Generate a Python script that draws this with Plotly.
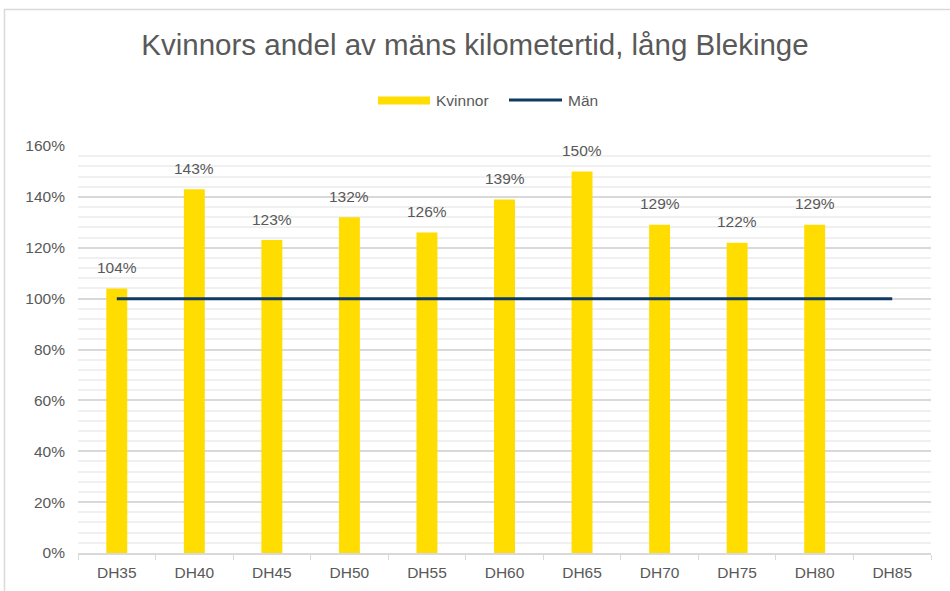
import plotly.graph_objects as go

categories = ["DH35", "DH40", "DH45", "DH50", "DH55", "DH60", "DH65", "DH70", "DH75", "DH80", "DH85"]
kvinnor = [1.04, 1.43, 1.23, 1.32, 1.26, 1.39, 1.50, 1.29, 1.22, 1.29, None]
man = [1.00] * 11
labels = ["104%", "143%", "123%", "132%", "126%", "139%", "150%", "129%", "122%", "129%", ""]

W, H = 950, 591
L, R, T, B = 78, 19, 146, 38
PW, PH = W - L - R, H - T - B

def px(x):
    return (x - L) / PW

def py(y):
    return (H - B - y) / PH

TXT = "#595959"
FONT = "Liberation Sans, Arial, sans-serif"
YEL = "#FFDD00"
NAVY = "#0F3A63"

fig = go.Figure()
fig.add_trace(go.Bar(x=categories, y=kvinnor, name="Kvinnor",
                     marker=dict(color=YEL, line=dict(width=0)), width=0.27,
                     showlegend=False, hoverinfo="x+y"))
fig.add_trace(go.Scatter(x=categories, y=man, name="Män", mode="lines",
                         line=dict(color=NAVY, width=3), showlegend=False))

annotations = []
for c, v, t in zip(categories, kvinnor, labels):
    if v is None:
        continue
    annotations.append(dict(x=c, y=v, text=t, showarrow=False, yshift=21,
                            yanchor="middle", font=dict(size=15.5, color=TXT, family=FONT)))

# manual legend
annotations.append(dict(xref="paper", yref="paper", x=px(434), y=py(100), text="Kvinnor",
                        showarrow=False, xanchor="left", yanchor="middle",
                        font=dict(size=15.5, color=TXT, family=FONT)))
annotations.append(dict(xref="paper", yref="paper", x=px(566), y=py(100), text="Män",
                        showarrow=False, xanchor="left", yanchor="middle",
                        font=dict(size=15.5, color=TXT, family=FONT)))

shapes = [
    dict(type="rect", xref="paper", yref="paper", x0=px(378), x1=px(430), y0=py(104.5), y1=py(96.5),
         fillcolor=YEL, line=dict(width=0)),
    dict(type="line", xref="paper", yref="paper", x0=px(509), x1=px(562), y0=py(100), y1=py(100),
         line=dict(color=NAVY, width=3)),
    dict(type="rect", xref="paper", yref="paper", x0=px(4.5), x1=px(960), y0=py(600), y1=py(9.5),
         line=dict(color="#d9d9d9", width=1.5), fillcolor="rgba(0,0,0,0)", layer="below"),
]

fig.update_layout(
    width=W, height=H,
    margin=dict(l=L, r=R, t=T, b=B, autoexpand=False),
    paper_bgcolor="white", plot_bgcolor="white",
    title=dict(text="Kvinnors andel av mäns kilometertid, lång Blekinge",
               x=0.5, xref="container", y=1 - 45 / H, yref="container",
               xanchor="center", yanchor="middle",
               font=dict(size=29.5, color=TXT, family=FONT)),
    font=dict(family=FONT, color=TXT, size=15.5),
    annotations=annotations,
    shapes=shapes,
    bargap=0.73,
)
fig.update_xaxes(type="category", range=[-0.5, 10.5], showline=True, linecolor="#d9d9d9", linewidth=1.5,
                 ticks="outside", tickson="boundaries", ticklen=5, tickcolor="#d9d9d9",
                 ticklabelstandoff=5, automargin=False,
                 showgrid=False, tickfont=dict(size=15.5, color=TXT, family=FONT))
fig.update_yaxes(range=[0, 1.6], dtick=0.2, tickformat=".0%", showgrid=True, gridcolor="#d9d9d9",
                 gridwidth=1.5, zeroline=False, showline=False, ticks="",
                 ticklabelstandoff=12, automargin=False,
                 minor=dict(dtick=0.04, showgrid=True, gridcolor="#f0f0f0", gridwidth=1.5),
                 tickfont=dict(size=15.5, color=TXT, family=FONT))

fig.write_html("out.html", config={"displayModeBar": False},
               post_script="document.body.style.margin='0';document.body.style.overflow='hidden';")
